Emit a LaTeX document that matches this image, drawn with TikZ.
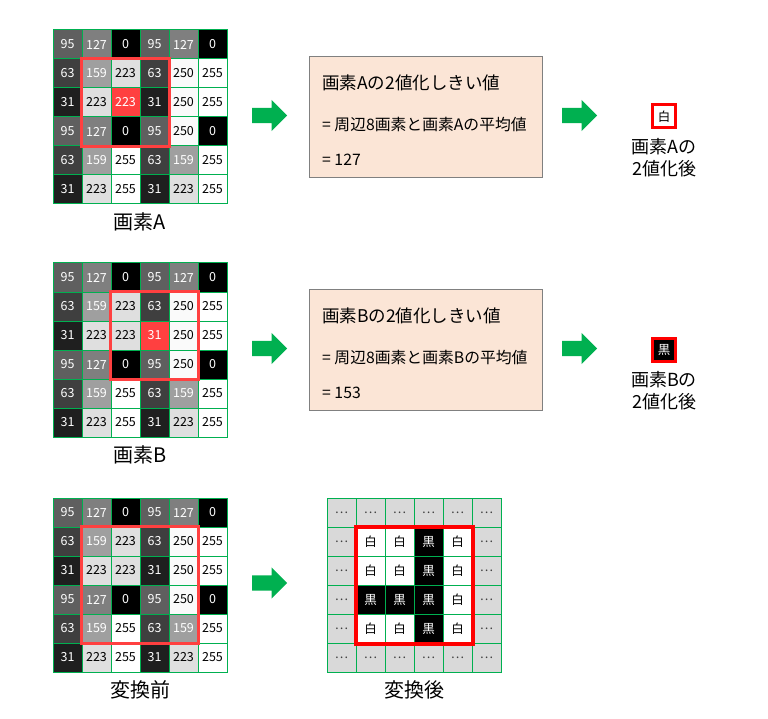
\documentclass[tikz,border=0pt]{standalone}
\usepackage{fontspec}
\setmainfont{Noto Sans CJK JP}
\usepackage{tikz}
\usepackage{xcolor}
\usetikzlibrary{positioning,shapes.arrows}

\definecolor{gridgreen}{HTML}{00B050}
\definecolor{hired}{HTML}{FF4040}
\definecolor{peach}{HTML}{FBE5D6}
\definecolor{ringgray}{HTML}{D9D9D9}

% 6x6 pixel grid: name, left, top
\newcommand{\pixgrid}[3]{%
  \foreach \vals [count=\r from 0] in {{95,127,0,95,127,0},{63,159,223,63,250,255},
      {31,223,223,31,250,255},{95,127,0,95,250,0},{63,159,255,63,159,255},{31,223,255,31,223,255}}
    \foreach \v [count=\c from 0] in \vals {
      \ifnum\v>200 \def\tc{black}\else\def\tc{white}\fi
      \node[pix node, fill={rgb,255:red,\v;green,\v;blue,\v}, text=\tc]
        (#1-\r-\c) at ({#2+29*\c+14.5},{#3+29*\r+14.5}) {\v};
    }%
}

\begin{document}
\begin{tikzpicture}[x=1pt, y=-1pt,
    pix node/.style={draw=gridgreen, line width=1pt, minimum size=29pt, inner sep=0pt,
      font=\fontsize{12.5}{14}\selectfont},
    bw/n/.style={fill=ringgray, text=darkgray, node contents={…}},
    bw/w/.style={fill=white, text=black, node contents={白}},
    bw/k/.style={fill=black, text=white, node contents={黒}},
    frame/.style={draw=hired, line width=3pt},
    big arrow/.style={single arrow, fill=gridgreen, draw=none, minimum height=35pt,
      inner xsep=0pt, inner ysep=7.5pt, single arrow head extend=8pt, anchor=tail},
    info box/.style={draw=gray, fill=peach, minimum width=233pt, minimum height=121pt},
    info title/.style={anchor=west, inner sep=0pt, font=\fontsize{17.5}{20}\selectfont},
    info line/.style={anchor=west, inner sep=0pt, font=\fontsize{15.8}{18}\selectfont},
    caption/.style={inner sep=0pt, font=\fontsize{20}{24}\selectfont},
    result box/.style={draw=red, line width=3pt, minimum size=23pt, inner sep=0pt,
      font=\fontsize{12.5}{14}\selectfont},
    result/.style={align=center, inner sep=0pt, font=\fontsize{18}{22}\selectfont}]

  \useasboundingbox[fill=white] (0,0) rectangle (768,719);

  % pixel A
  \pixgrid{a}{53}{30}
  \node[pix node, fill=hired, text=white] (a-hit) at (a-2-2) {223};
  \draw[frame] (a-1-1.north west) rectangle (a-3-3.south east);
  \node[caption] (capA) at (140,222) {画素A};

  \node[big arrow] (arA1) at (252,115.5) {};
  \node[info box] (boxA) at (425.5,117) {};
  \node[info title] (tA1) at (322,83) {画素Aの2値化しきい値};
  \node[info line] (tA2) at (322,125) {= 周辺8画素と画素Aの平均値};
  \node[info line] (tA3) at (322,160) {= 127};
  \node[big arrow] (arA2) at (562,115.5) {};
  \node[result box, fill=white, text=black] (resA) at (664,116.5) {白};
  \node[result] (capResA) at (664,158) {画素Aの\\2値化後};

  % pixel B
  \pixgrid{b}{53}{263}
  \node[pix node, fill=hired, text=white] (b-hit) at (b-2-3) {31};
  \draw[frame] (b-1-2.north west) rectangle (b-3-4.south east);
  \node[caption] (capB) at (140,455) {画素B};

  \node[big arrow] (arB1) at (252,348.5) {};
  \node[info box] (boxB) at (425.5,350) {};
  \node[info title] (tB1) at (322,316) {画素Bの2値化しきい値};
  \node[info line] (tB2) at (322,358) {= 周辺8画素と画素Bの平均値};
  \node[info line] (tB3) at (322,393) {= 153};
  \node[big arrow] (arB2) at (562,348.5) {};
  \node[result box, fill=black, text=white] (resB) at (664,349.5) {黒};
  \node[result] (capResB) at (664,391) {画素Bの\\2値化後};

  % whole image
  \pixgrid{c}{53}{498}
  \draw[frame] (c-1-1.north west) rectangle (c-4-4.south east);
  \node[caption] (capC) at (140,690) {変換前};

  \node[big arrow] (arC) at (252,583) {};

  \foreach \vals [count=\r from 0] in {{n,n,n,n,n,n},{n,w,w,k,w,n},{n,w,w,k,w,n},
      {n,k,k,k,w,n},{n,w,w,k,w,n},{n,n,n,n,n,n}}
    \foreach \s [count=\c from 0] in \vals
      \node (d-\r-\c) at ({327+29*\c+14.5},{498+29*\r+14.5}) [pix node, bw/\s];
  \draw[frame, draw=red, line width=4pt] (d-1-1.north west) rectangle (d-4-4.south east);
  \node[caption] (capD) at (414,690) {変換後};
\end{tikzpicture}
\end{document}
